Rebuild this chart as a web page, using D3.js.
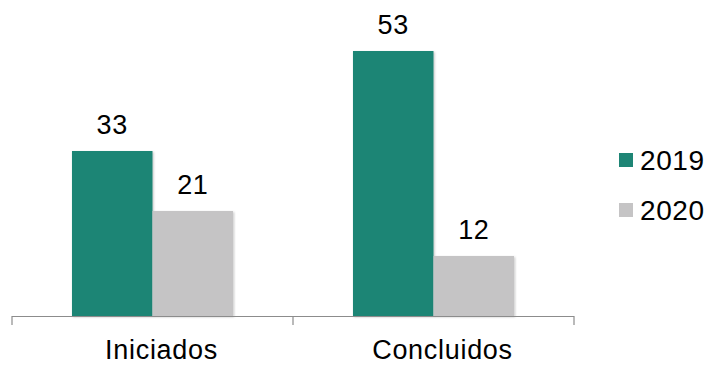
<!DOCTYPE html>
<html><head><meta charset="utf-8">
<script src="https://cdn.jsdelivr.net/npm/d3@7"></script>
<style>body{margin:0;background:#fff}svg{display:block;font-family:"Liberation Sans",Arial,Helvetica,sans-serif}</style>
</head><body><svg id="c" width="707" height="365"></svg>
<script>
const categories = ["Iniciados", "Concluidos"];
const seriesNames = ["2019", "2020"];
const values2019 = [33, 53];
const values2020 = [21, 12];
const colors = ["#1e8575", "#c5c4c5"];

const series = [values2019, values2020];
const svg = d3.select("#c");
const base = 316;
const x0 = d3.scaleBand().domain(categories).range([12, 574]).padding(0);
const x1 = d3.scaleBand().domain(seriesNames).range([0, x0.bandwidth()]).paddingInner(0).paddingOuter(0.745);
const y = d3.scaleLinear().domain([0, 60]).range([base, base - 300]);

const defs = svg.append("defs");
const f = defs.append("filter").attr("id", "sh").attr("x", "-10%").attr("y", "-10%").attr("width", "130%").attr("height", "130%");
f.append("feDropShadow").attr("dx", 1).attr("dy", 1).attr("stdDeviation", 1.2).attr("flood-color", "#000").attr("flood-opacity", 0.25);

const data = [];
categories.forEach((c, i) => seriesNames.forEach((s, j) => data.push({c, s, j, v: series[j][i]})));

svg.selectAll("rect.bar").data(data).join("rect").attr("class", "bar")
  .attr("x", d => x0(d.c) + x1(d.s))
  .attr("width", x1.bandwidth())
  .attr("y", d => y(d.v))
  .attr("height", d => base - y(d.v))
  .attr("fill", d => colors[d.j])
  .attr("filter", "url(#sh)");

svg.selectAll("text.val").data(data).join("text").attr("class", "val")
  .attr("x", d => x0(d.c) + x1(d.s) + x1.bandwidth() / 2)
  .attr("y", d => y(d.v) - 17)
  .attr("text-anchor", "middle")
  .attr("font-size", 27)
  .attr("letter-spacing", 0.6)
  .attr("fill", "#000")
  .text(d => d.v);

// axis
const ax = svg.append("g").attr("transform", `translate(0,${base})`);
const ticksX = [x0.range()[0], ...categories.slice(1).map(c => x0(c)), x0.range()[1]];
ax.append("line").attr("x1", x0.range()[0]).attr("x2", x0.range()[1]).attr("y1", 0.5).attr("y2", 0.5).attr("stroke", "#8c8c8c").attr("stroke-width", 1.2);
ax.selectAll("line.tk").data(ticksX).join("line").attr("class", "tk")
  .attr("x1", d => d).attr("x2", d => d).attr("y1", 0).attr("y2", 9)
  .attr("stroke", "#8c8c8c").attr("stroke-width", 1.2);
ax.selectAll("text").data(categories).join("text")
  .attr("x", d => x0(d) + x0.bandwidth() / 2 + 9)
  .attr("y", 43)
  .attr("text-anchor", "middle")
  .attr("font-size", 27)
  .attr("letter-spacing", 0.7)
  .attr("fill", "#000")
  .text(d => d);

// legend
const lg = svg.append("g").attr("transform", "translate(619,153)");
const li = lg.selectAll("g").data(seriesNames).join("g").attr("transform", (d, i) => `translate(0,${i * 50})`);
li.append("rect").attr("width", 14).attr("height", 14).attr("fill", (d, i) => colors[i]);
li.append("text").attr("x", 21).attr("y", 17).attr("font-size", 28).attr("letter-spacing", 0.6).attr("fill", "#000").text(d => d);
</script></body></html>
